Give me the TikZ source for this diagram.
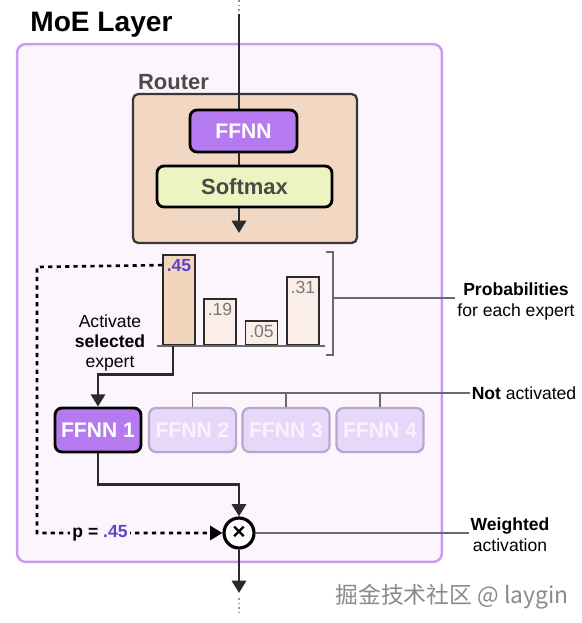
\documentclass[tikz,border=0pt]{standalone}
\usepackage{fontspec}
\setmainfont{Liberation Sans}
\newfontfamily\cjkfont{Noto Sans CJK SC}
\usetikzlibrary{
  positioning,
  arrows.meta,
  calc,
}
\definecolor{border}{HTML}{2B2B2B}
\definecolor{frameLine}{HTML}{C79BEF}
\definecolor{frameFill}{HTML}{FCF5FD}
\definecolor{routerFill}{HTML}{F2D8C2}
\definecolor{routerLine}{HTML}{3C3632}
\definecolor{ffnnFill}{HTML}{B57AF0}
\definecolor{softFill}{HTML}{EEF3C2}
\definecolor{textSub}{HTML}{4A4A4A}
\definecolor{barSel}{HTML}{F2D6BC}
\definecolor{barFill}{HTML}{FBEDE7}
\definecolor{valPurple}{HTML}{5B45C8}
\definecolor{valGray}{HTML}{777777}
\definecolor{offFill}{HTML}{E7D8FA}
\definecolor{offLine}{HTML}{B9A8CD}
\definecolor{offText}{HTML}{F8F2FF}
\definecolor{noteCol}{HTML}{6A6A6A}
\definecolor{wmGray}{HTML}{8A8A8A}
\tikzset{
  moeframe/.style={
    rectangle, rounded corners=5pt, draw=frameLine, fill=frameFill,
    line width=1.4pt,
  },
  routerbox/.style={
    rectangle, rounded corners=3pt, draw=routerLine, fill=routerFill,
    line width=1.3pt,
  },
  ffnnbox/.style={
    rectangle, rounded corners=4pt, draw=black, fill=ffnnFill,
    line width=1.6pt, text=white, font=\fontsize{12}{14}\selectfont\bfseries,
  },
  offbox/.style={
    ffnnbox, draw=offLine, fill=offFill, text=offText, line width=1.3pt,
    minimum width=1.74cm, minimum height=0.88cm,
  },
  softbox/.style={
    rectangle, rounded corners=4pt, draw=black, fill=softFill,
    line width=1.6pt, text=textSub, font=\fontsize{12.5}{14}\selectfont\bfseries,
  },
  bar/.style={
    rectangle, draw=border, fill=barFill, line width=1.1pt,
    minimum width=0.64cm, anchor=south, inner sep=0pt,
  },
  barval/.style={font=\fontsize{10}{12}\selectfont, text=valGray, inner sep=1pt},
  notetext/.style={font=\fontsize{10}{12}\selectfont, align=center, inner sep=1pt},
  note/.style={noteCol, line width=0.8pt},
  flow/.style={border, line width=1.7pt},
  flowarrow/.style={-{Triangle[width=8pt,length=7pt]}, border, line width=1.7pt},
  dasharrow/.style={-{Triangle[width=8pt,length=7pt]}, black, line width=1.5pt,
    dash pattern=on 2.4pt off 2.4pt},
  dotline/.style={noteCol!70, line width=1pt, dash pattern=on 1pt off 1.6pt},
  mulnode/.style={circle, draw=black, fill=white, line width=1.8pt,
    minimum size=0.6cm, inner sep=0pt, font=\fontsize{13}{13}\selectfont\bfseries},
}

\begin{document}
\begin{tikzpicture}[x=0.02cm, y=-0.02cm]
  \useasboundingbox (0,0) rectangle (582,623);

  % MoE layer
  \node[moeframe, minimum width=8.5cm, minimum height=10.36cm] (moe) at (229.5,303) {};
  \node[font=\fontsize{16}{18}\selectfont\bfseries, anchor=west, inner sep=0pt] (ttl) at (30,25) {MoE Layer};

  % Router
  \node[routerbox, minimum width=4.48cm, minimum height=2.98cm] (router) at (245,168.5) {};
  \node[font=\fontsize{12.5}{14}\selectfont\bfseries, text=textSub, anchor=south west, inner sep=1pt] (rlabel) at (136,92) {Router};
  \node[ffnnbox, minimum width=2.14cm, minimum height=0.84cm] (ffnn) at (243.5,131) {FFNN};
  \node[softbox, minimum width=3.5cm, minimum height=0.82cm] (soft) at (244.5,186.5) {Softmax};

  \coordinate (in) at (239,14);
  \draw[dotline] (239,0) -- (in);
  \draw[flow] (in) -- (in |- ffnn.north);
  \draw[flow] (in |- ffnn.south) -- (in |- soft.north);
  \coordinate (rout) at (239,233);
  \draw[flowarrow] (in |- soft.south) -- (rout);

  % Probabilities
  \node[bar, fill=barSel, minimum height=1.8cm] (b1) at (179,346) {};
  \node[bar, minimum height=0.92cm] (b2) at (220,346) {};
  \node[bar, minimum height=0.48cm] (b3) at (261.5,346) {};
  \node[bar, minimum height=1.36cm] (b4) at (303,346) {};
  \node[barval, text=valPurple, font=\fontsize{10}{12}\selectfont\bfseries, below=2pt of b1.north] {.45};
  \node[barval, below=2pt of b2.north] {.19};
  \node[barval, below=2pt of b3.north] {.05};
  \node[barval, below=2pt of b4.north] {.31};
  \draw[noteCol, line width=1.5pt] (157,346) -- (325,346);

  \draw[note] (326,252) -- (333,252) -- (333,355) -- (326,355);
  \node[notetext] (prob) at (516,301) {\textbf{Probabilities}\\for each expert};
  \coordinate (pb) at (333,298);
  \draw[note] (pb) -- (pb -| prob.west);

  % Experts
  \node[ffnnbox, minimum width=1.72cm, minimum height=0.88cm] (e1) at (98,430) {FFNN 1};
  \node[offbox] (e2) at (192.5,430) {FFNN 2};
  \node[offbox] (e3) at (286,430) {FFNN 3};
  \node[offbox] (e4) at (380,430) {FFNN 4};

  \node[notetext] (na) at (524,393) {\textbf{Not} activated};
  \draw[note] (e2.north) |- (na.west);
  \draw[note] (e3.north) -- (e3.north |- na.west);
  \draw[note] (e4.north) -- (e4.north |- na.west);

  \node[notetext, font=\fontsize{10}{11.5}\selectfont] (act) at (110,343) {Activate\\\textbf{selected}\\expert};
  \draw[flowarrow] ([xshift=-0.12cm]b1.south) -- ++(0,28) -| (e1.north);

  % Weighted output
  \node[mulnode] (mul) at (239,533) {×};
  \draw[flowarrow] (e1.south) -- ++(0,31) -| (mul.north);

  \coordinate (dtop) at (37,267);
  \coordinate (dbot) at (37,533);
  \draw[dasharrow] ([yshift=-0.22cm]b1.north west) -- (dtop) -- (dbot)
    -- node[pos=0.34, fill=frameFill, inner sep=1.5pt, font=\fontsize{10}{12}\selectfont\bfseries] (plabel) {p = \textcolor{valPurple}{.45}} (mul.west);

  \node[notetext] (wa) at (510,535) {\textbf{Weighted}\\activation};
  \draw[note] (mul.east) -- (mul.east -| wa.west);

  \coordinate (out) at (239,593);
  \draw[flowarrow] (mul.south) -- (out);
  \draw[dotline] (239,598) -- (239,615);

  \node[font=\cjkfont\fontsize{13}{15}\selectfont, text=wmGray] (wm) at (452,597) {掘金技术社区 @ laygin};

\end{tikzpicture}
\end{document}
